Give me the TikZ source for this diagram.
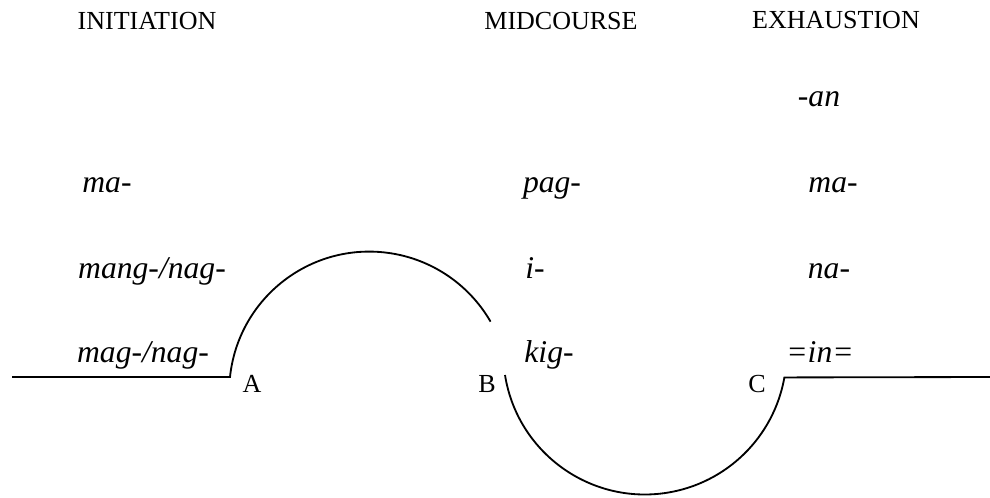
\documentclass[tikz,border=0pt]{standalone}
\usepackage{fontspec}
\setmainfont{Liberation Serif}
\usepackage{tikz}
\usetikzlibrary{positioning, calc}

\begin{document}
\begin{tikzpicture}[
    x=0.025cm, y=0.025cm,
    every node/.style={inner sep=0pt, anchor=base},
    phasetitle/.style={
        font=\fontsize{18.5}{22}\selectfont
    },
    affix/.style={
        font=\fontsize{22.5}{27}\selectfont\itshape
    },
    pointlabel/.style={
        font=\fontsize{18.5}{22}\selectfont
    },
    course/.style={
        line width=1.3pt,
        draw=black
    }
]
\useasboundingbox (0,0) rectangle (990,-498);

% ==================== PHASE TITLES ====================

\node (title_init) [phasetitle] at (147, -30) {INITIATION};
\node (title_mid) [phasetitle] at (561, -30) {MIDCOURSE};
\node (title_exh) [phasetitle] at (836, -29) {EXHAUSTION};

% ==================== AFFIXES ====================

\node (init_ma) [affix] at (107, -193) {ma-};
\node (init_mang) [affix] at (152, -278) {mang-/nag-};
\node (init_mag) [affix] at (143, -362) {mag-/nag-};

\node (mid_pag) [affix] at (552, -193) {pag-};
\node (mid_i) [affix] at (535, -278) {i-};
\node (mid_kig) [affix] at (549, -362) {kig-};

\node (exh_an) [affix] at (819, -107) {-an};
\node (exh_ma) [affix] at (833, -193) {ma-};
\node (exh_na) [affix] at (829, -278) {na-};
\node (exh_in) [affix] at (820, -362) {=in=};

% ==================== COURSE LINE ====================

\node (lbl_a) [pointlabel] at (252, -392) {A};
\node (lbl_b) [pointlabel] at (487, -392) {B};
\node (lbl_c) [pointlabel] at (757, -392) {C};

\coordinate (left_end) at (12, -377);
\coordinate (pt_a) at (230, -377);
\coordinate (pt_b) at (505, -375);
\coordinate (pt_c) at (784, -377);
\coordinate (right_end) at (990, -377);

\draw [course] (left_end) -- (pt_a) arc[start angle=174, end angle=30, radius=3.5cm];
\draw [course] (pt_b) arc[start angle=189, end angle=350, radius=3.54cm] -- (right_end);

\end{tikzpicture}
\end{document}
